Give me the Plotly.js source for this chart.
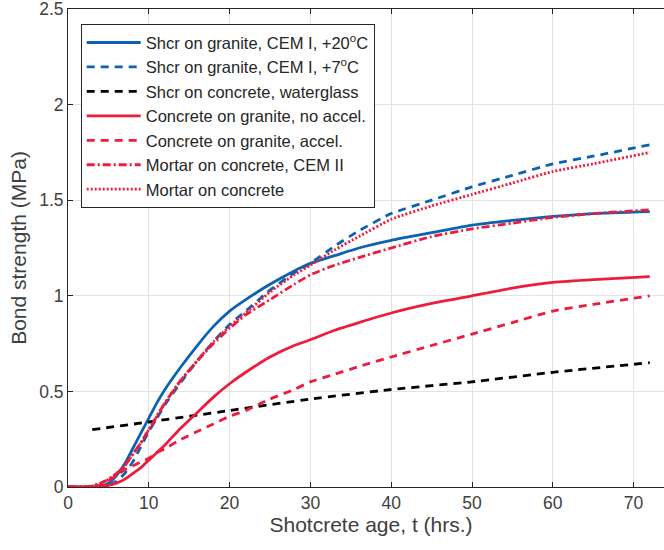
<!DOCTYPE html>
<html>
<head>
<meta charset="utf-8">
<script src="https://cdn.plot.ly/plotly-3.0.1.min.js"></script>
<style>
html,body{margin:0;padding:0;overflow:hidden;background:#fff;}
#chart{width:680px;height:550px;}
</style>
</head>
<body>
<div id="chart"></div>
<script>
// Time (hrs.)
const t = [0, 3, 4, 5, 6, 7, 8, 9, 10, 11, 12, 14, 16, 18, 20, 22, 25, 28, 30, 33, 36, 40, 45, 50, 55, 60, 65, 72];
// Bond strength (MPa) for each series
const shcrGranite20 = [0, 0, 0.005, 0.02, 0.06, 0.12, 0.20, 0.28, 0.36, 0.44, 0.51, 0.63, 0.74, 0.84, 0.92, 0.98, 1.06, 1.13, 1.17, 1.21, 1.25, 1.29, 1.33, 1.37, 1.395, 1.415, 1.43, 1.44];
const shcrGranite7 = [0, 0, 0.003, 0.01, 0.03, 0.07, 0.13, 0.21, 0.29, 0.36, 0.43, 0.55, 0.66, 0.76, 0.85, 0.92, 1.03, 1.12, 1.17, 1.26, 1.34, 1.43, 1.50, 1.57, 1.63, 1.69, 1.73, 1.79];
const tBlack = [3, 10, 20, 30, 40, 50, 60, 72];
const shcrConcreteWG = [0.30, 0.34, 0.40, 0.46, 0.51, 0.55, 0.60, 0.65];
const concGraniteNoAcc = [0, 0, 0.002, 0.008, 0.02, 0.04, 0.07, 0.10, 0.14, 0.18, 0.22, 0.31, 0.39, 0.47, 0.54, 0.60, 0.68, 0.74, 0.77, 0.82, 0.86, 0.91, 0.96, 1.00, 1.04, 1.07, 1.085, 1.10];
const concGraniteAcc = [0, 0, 0.01, 0.03, 0.06, 0.09, 0.11, 0.13, 0.15, 0.18, 0.20, 0.25, 0.29, 0.33, 0.37, 0.40, 0.46, 0.51, 0.55, 0.59, 0.63, 0.68, 0.74, 0.80, 0.86, 0.92, 0.955, 1.00];
const mortarCEMII = [0, 0.005, 0.02, 0.04, 0.07, 0.11, 0.17, 0.23, 0.30, 0.37, 0.44, 0.56, 0.66, 0.75, 0.83, 0.90, 0.98, 1.06, 1.11, 1.16, 1.20, 1.25, 1.31, 1.35, 1.38, 1.41, 1.43, 1.45];
const mortarConcrete = [0, 0.005, 0.02, 0.04, 0.07, 0.11, 0.17, 0.23, 0.30, 0.37, 0.44, 0.56, 0.66, 0.76, 0.84, 0.91, 1.02, 1.11, 1.16, 1.24, 1.31, 1.40, 1.47, 1.53, 1.59, 1.65, 1.69, 1.75];

const names = [
  "Shcr on granite, CEM I, +20<sup>o</sup>C",
  "Shcr on granite, CEM I, +7<sup>o</sup>C",
  "Shcr on concrete, waterglass",
  "Concrete on granite, no accel.",
  "Concrete on granite, accel.",
  "Mortar on concrete, CEM II",
  "Mortar on concrete"
];

const BLUE = "#0a62b4";
const RED = "#ee1c3c";
const W = 2.8;
const FONT = "Liberation Sans, Arial, sans-serif";

function tr(x, y, name, color, dash, shape) {
  return {x: x, y: y, name: name, type: "scatter", mode: "lines",
    line: {color: color, width: W, dash: dash, shape: shape || "spline", smoothing: 0.5}};
}

const data = [
  tr(t, shcrGranite20, names[0], BLUE, "solid"),
  tr(t, shcrGranite7, names[1], BLUE, "8px,6px"),
  tr(tBlack, shcrConcreteWG, names[2], "#000000", "8px,6px"),
  tr(t, concGraniteNoAcc, names[3], RED, "solid"),
  tr(t, concGraniteAcc, names[4], RED, "8px,6px"),
  tr(t, mortarCEMII, names[5], RED, "8px,3px,2px,3px"),
  tr(t, mortarConcrete, names[6], RED, "2px,2px")
];

const axisCommon = {
  showline: true, linecolor: "#262626", linewidth: 1, mirror: "ticks",
  ticks: "inside", ticklen: 5, tickcolor: "#262626",
  showgrid: true, gridcolor: "#e3e3e3", gridwidth: 1, zeroline: false,
  ticklabeloverflow: "allow",
  tickfont: {family: FONT, size: 17.5, color: "#404040"}
};

const layout = {
  width: 680, height: 550,
  margin: {l: 68, r: 6, t: 9, b: 63},
  paper_bgcolor: "#fff", plot_bgcolor: "#fff",
  showlegend: true,
  xaxis: Object.assign({}, axisCommon, {
    range: [0, 75], tickvals: [0,10,20,30,40,50,60,70],
    title: {text: "Shotcrete age, t (hrs.)", standoff: 2,
      font: {family: FONT, size: 21, color: "#404040"}}
  }),
  yaxis: Object.assign({}, axisCommon, {
    range: [0, 2.5], tickvals: [0,0.5,1,1.5,2,2.5], ticktext: ["0","0.5","1","1.5","2","2.5"],
    title: {text: "Bond strength (MPa)", standoff: 6,
      font: {family: FONT, size: 21, color: "#404040"}}
  }),
  legend: {
    x: 0.021, y: 0.968, xanchor: "left", yanchor: "top",
    bgcolor: "#fff", bordercolor: "#262626", borderwidth: 1,
    font: {family: FONT, size: 16.5, color: "#262626"},
    tracegroupgap: 0, itemwidth: 54
  }
};

Plotly.newPlot("chart", data, layout, {displayModeBar: false, staticPlot: true});
</script>
</body>
</html>
